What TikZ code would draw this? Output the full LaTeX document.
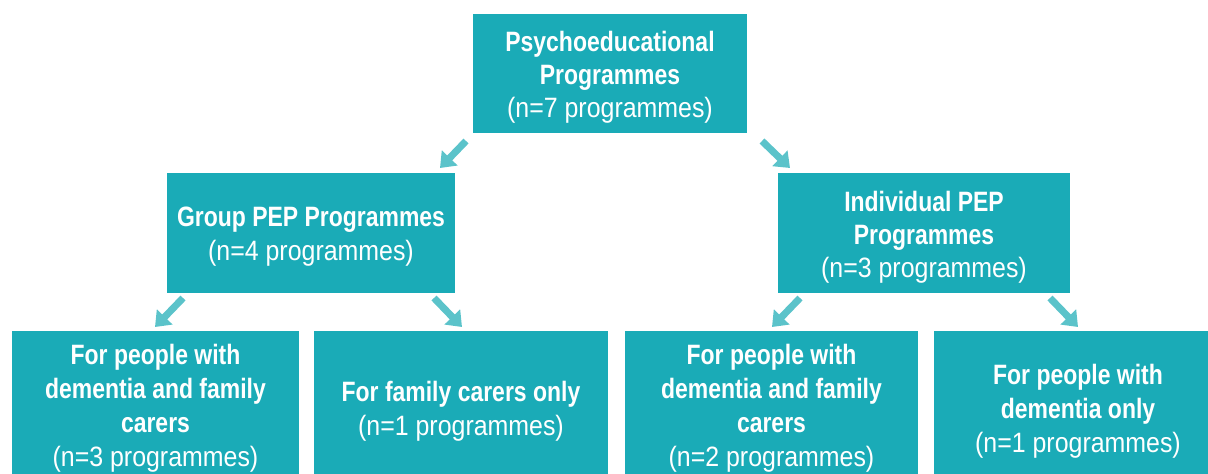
\documentclass[tikz,border=0pt]{standalone}
\usepackage{fontspec}
\setmainfont[FakeStretch=0.89,BoldFeatures={FakeStretch=0.82}]{Liberation Sans}
\usetikzlibrary{arrows.meta}
\definecolor{boxteal}{HTML}{1AABB7}
\definecolor{arrowteal}{HTML}{5BC3CA}
\newcommand{\topstrut}[1]{\rule{0pt}{#1}}
\begin{document}
\begin{tikzpicture}[x=1pt,y=-1pt,
  tbox/.style={fill=boxteal, draw=none, text=white, align=center, inner sep=0pt,
    font=\fontsize{28}{34}\selectfont},
  darrow/.style={draw=arrowteal, line width=7pt, -{Triangle[width=21pt,length=14pt]}}]
\useasboundingbox (0,0) rectangle (1208,474);
\clip (0,0) rectangle (1208,474);

\node[tbox, minimum width=274pt, minimum height=119pt, font=\fontsize{28}{33}\selectfont] (top) at (610,73.5)
  {\topstrut{28pt}\textbf{Psychoeducational}\\\textbf{Programmes}\\(n=7 programmes)};
\node[tbox, minimum width=288pt, minimum height=120pt] (group) at (311,233)
  {\topstrut{27pt}\textbf{Group PEP Programmes}\\(n=4 programmes)};
\node[tbox, minimum width=292pt, minimum height=120pt, font=\fontsize{28}{33}\selectfont] (indiv) at (924,233)
  {\topstrut{28pt}\textbf{Individual PEP}\\\textbf{Programmes}\\(n=3 programmes)};

\node[tbox, minimum width=287pt, minimum height=155pt] (b1) at (155.5,408.5)
  {\textbf{For people with}\\\textbf{dementia and family}\\\textbf{carers}\\(n=3 programmes)};
\node[tbox, minimum width=294pt, minimum height=155pt] (b2) at (461,408.5)
  {\topstrut{25pt}\textbf{For family carers only}\\(n=1 programmes)};
\node[tbox, minimum width=293pt, minimum height=155pt] (b3) at (771.5,408.5)
  {\textbf{For people with}\\\textbf{dementia and family}\\\textbf{carers}\\(n=2 programmes)};
\node[tbox, minimum width=288pt, minimum height=155pt] (b4) at (1078,408.5)
  {\topstrut{25pt}\textbf{For people with}\\\textbf{dementia only}\\(n=1 programmes)};

\coordinate (a1s) at (466,141); \coordinate (a1e) at (440,168);
\coordinate (a2s) at (762,141); \coordinate (a2e) at (790,168);
\coordinate (a3s) at (183,298); \coordinate (a3e) at (155,327);
\coordinate (a4s) at (434,298); \coordinate (a4e) at (462,327);
\coordinate (a5s) at (800,298); \coordinate (a5e) at (772,327);
\coordinate (a6s) at (1050,298); \coordinate (a6e) at (1078,327);
\draw[darrow] (a1s) -- (a1e);
\draw[darrow] (a2s) -- (a2e);
\draw[darrow] (a3s) -- (a3e);
\draw[darrow] (a4s) -- (a4e);
\draw[darrow] (a5s) -- (a5e);
\draw[darrow] (a6s) -- (a6e);
\end{tikzpicture}
\end{document}
